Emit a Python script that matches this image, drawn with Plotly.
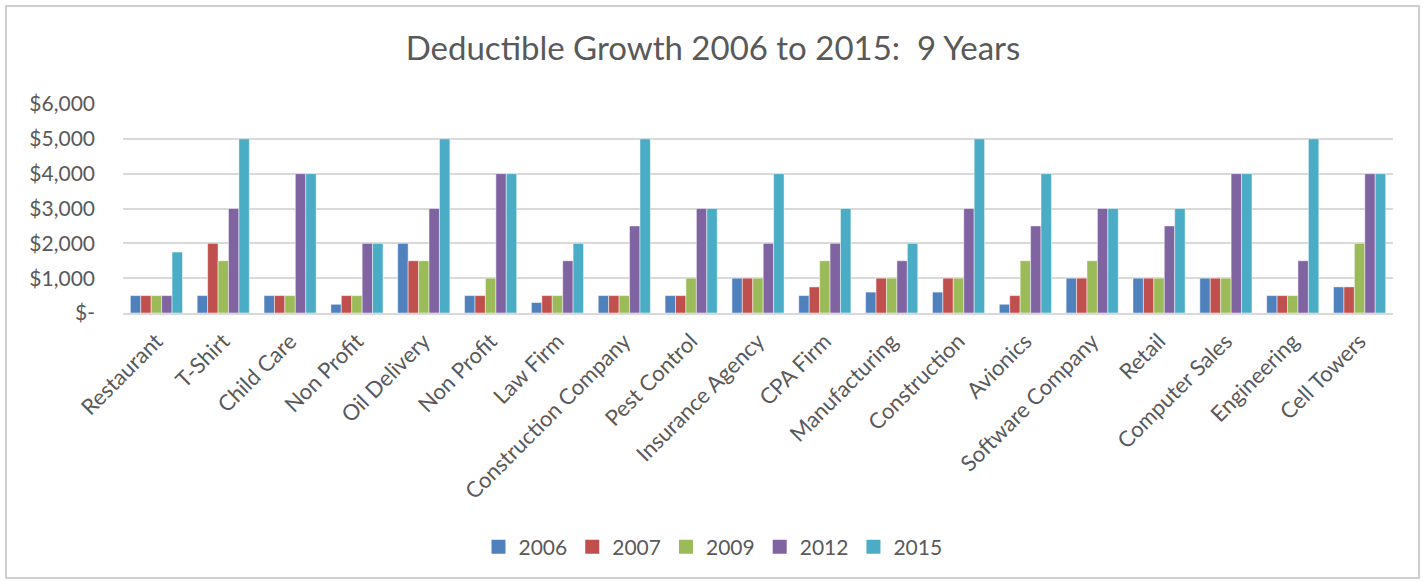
import plotly.graph_objects as go

categories = ["Restaurant", "T-Shirt", "Child Care", "Non Profit", "Oil Delivery", "Non Profit",
              "Law Firm", "Construction Company", "Pest Control", "Insurance Agency", "CPA Firm",
              "Manufacturing", "Construction", "Avionics", "Software Company", "Retail",
              "Computer Sales", "Engineering", "Cell Towers"]

y2006 = [500, 500, 500, 250, 2000, 500, 300, 500, 500, 1000, 500, 600, 600, 250, 1000, 1000, 1000, 500, 750]
y2007 = [500, 2000, 500, 500, 1500, 500, 500, 500, 500, 1000, 750, 1000, 1000, 500, 1000, 1000, 1000, 500, 750]
y2009 = [500, 1500, 500, 500, 1500, 1000, 500, 500, 1000, 1000, 1500, 1000, 1000, 1500, 1500, 1000, 1000, 500, 2000]
y2012 = [500, 3000, 4000, 2000, 3000, 4000, 1500, 2500, 3000, 2000, 2000, 1500, 3000, 2500, 3000, 2500, 4000, 1500, 4000]
y2015 = [1750, 5000, 4000, 2000, 5000, 4000, 2000, 5000, 3000, 4000, 3000, 2000, 5000, 4000, 3000, 3000, 4000, 5000, 4000]

series_names = ["2006", "2007", "2009", "2012", "2015"]
series_values = [y2006, y2007, y2009, y2012, y2015]
colors = ["#4F81BD", "#C0504D", "#9BBB59", "#8064A2", "#4BACC6"]

y_tickvals = [0, 1000, 2000, 3000, 4000, 5000, 6000]
y_ticktext = ["$-", "$1,000", "$2,000", "$3,000", "$4,000", "$5,000", "$6,000"]

xs = list(range(len(categories)))

fig = go.Figure()
for name, vals, col in zip(series_names, series_values, colors):
    fig.add_trace(go.Bar(x=xs, y=vals, name=name, legendgroup=name, showlegend=False,
                         marker=dict(color=col, line=dict(color="rgba(255,255,255,0.6)", width=0.8))))
# legend entries with larger square swatches
for name, col in zip(series_names, colors):
    fig.add_trace(go.Scatter(x=[None], y=[None], mode="markers", name=name, legendgroup=name,
                             marker=dict(symbol="square", size=14, color=col), hoverinfo="skip"))

W, H = 1426, 582
ml, mr, mt, mb = 123, 33, 104, 269
pw, ph = W - ml - mr, H - mt - mb

def px(xp):
    return (xp - ml) / pw

def py(yp):
    return (H - mb - yp) / ph

font = "Lato, 'Open Sans', sans-serif"

fig.update_layout(
    width=W, height=H,
    margin=dict(l=ml, r=mr, t=mt, b=mb, autoexpand=False),
    paper_bgcolor="white", plot_bgcolor="white",
    barmode="group", bargap=0.22, bargroupgap=0,
    font=dict(family=font, color="#595959", size=19),
    title=dict(text="Deductible Growth 2006 to 2015:  9 Years", x=0.5, xanchor="center",
               y=1 - 48 / H, yanchor="middle", xref="container",
               font=dict(family=font, size=33, color="#595959")),
    xaxis=dict(tickmode="array", tickvals=xs, ticktext=categories, tickangle=-45,
               range=[-0.5, len(categories) - 0.5], showgrid=False, showline=True,
               linecolor="#D9D9D9", linewidth=1.5, ticks="", ticklabelstandoff=5,
               tickfont=dict(size=22, color="#595959")),
    yaxis=dict(tickmode="array", tickvals=y_tickvals, ticktext=y_ticktext, range=[0, 6000],
               showgrid=True, gridcolor="#D9D9D9", gridwidth=1.5, zeroline=False, showline=False,
               ticks="", ticklabelstandoff=27, tickfont=dict(size=21, color="#595959")),
    legend=dict(orientation="h", x=0.5, xanchor="center", xref="container", y=py(547), yanchor="middle",
                font=dict(size=21, color="#595959"), traceorder="normal", itemwidth=30,
                itemsizing="trace"),
    shapes=[dict(type="rect", xref="paper", yref="paper", x0=px(6), x1=px(1419), y0=py(578), y1=py(6),
                 line=dict(color="#BFBFBF", width=1.5), fillcolor="rgba(0,0,0,0)", layer="below")],
)

fig.write_html("out.html")
